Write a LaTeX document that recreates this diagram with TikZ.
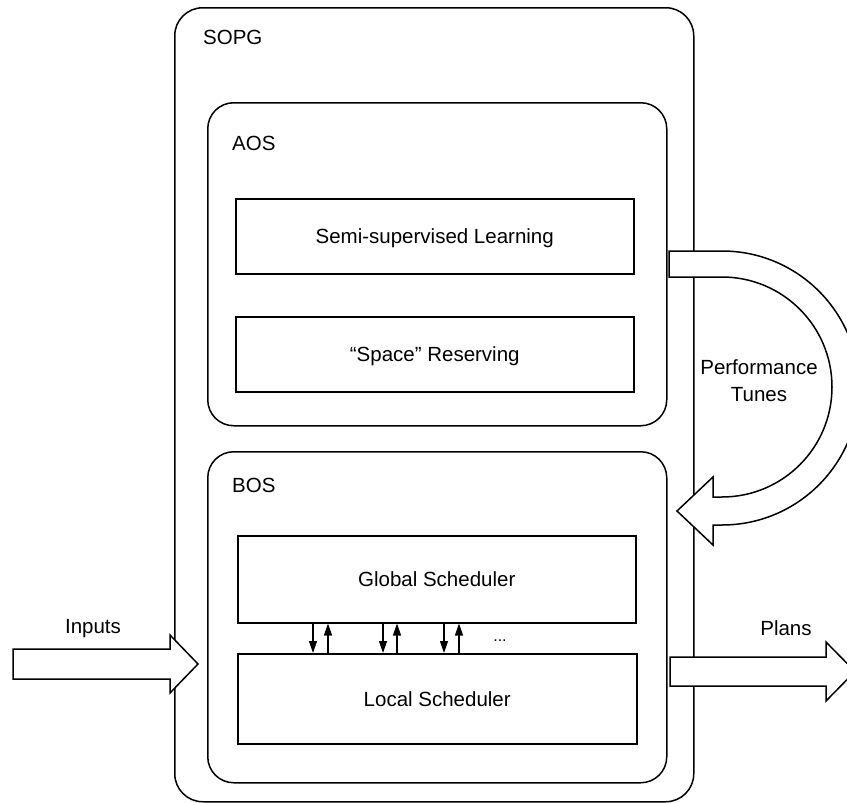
\documentclass[tikz,border=0pt]{standalone}
\usepackage{fontspec}
\setmainfont{Liberation Sans}
\usetikzlibrary{arrows.meta}

\begin{document}
\begin{tikzpicture}[
  x=1pt,y=-1pt,
  font=\fontsize{20.5}{27}\selectfont,
  frame/.style={draw=black,line width=1.5pt,rounded corners=26pt,
    anchor=north west,inner sep=0pt},
  module/.style={draw=black,line width=1.5pt,anchor=north west,inner sep=0pt,
    minimum width=398pt,text height=14.7pt,text depth=0pt},
  tag/.style={anchor=base west,inner sep=0pt},
  caption/.style={anchor=base,inner sep=0pt},
  bigarrow/.style={draw=black,fill=white,line width=1.5pt,line join=miter},
  link/.style={-{Triangle[length=12pt,width=8pt]},line width=1.2pt}
]
\useasboundingbox (0,0) rectangle (847,803);
\clip (0,0) rectangle (847,803);
% containers
\node[frame,rounded corners=28pt,minimum width=519pt,minimum height=794pt] (sopg) at (174,7) {};
\node[frame,minimum width=459pt,minimum height=323pt] (aos) at (207,102) {};
\node[frame,minimum width=459pt,minimum height=331pt] (bos) at (207,451) {};
\node[tag] (sopgtag) at (203,45) {SOPG};
\node[tag] (aostag) at (232,150) {AOS};
\node[tag] (bostag) at (232,492) {BOS};
% modules
\node[module,minimum height=75pt] (learning) at (235,198) {Semi-supervised Learning};
\node[module,minimum height=75pt] (reserving) at (235,316) {“Space” Reserving};
\node[module,minimum height=87pt] (global) at (237,535) {Global Scheduler};
\node[module,minimum width=399pt,minimum height=90pt] (local) at (237,653) {Local Scheduler};
% scheduler links
\foreach \x in {313,383,444}
  \draw[link] (\x,0 |- global.south) -- (\x,0 |- local.north);
\foreach \x in {328,397,459}
  \draw[link] (\x,0 |- local.north) -- (\x,0 |- global.south);
\node[caption,font=\fontsize{16}{18}\selectfont] (more) at (500,641) {...};
% block arrows
\draw[bigarrow] (13,649) -- (170,649) -- (170,635) -- (198,664) -- (170,693) -- (170,679) -- (13,679) -- cycle;
\draw[bigarrow] (670,657) -- (826,657) -- (826,642) -- (855,671.5) -- (826,701) -- (826,686) -- (670,686) -- cycle;
\draw[bigarrow] (669,251) -- (722,251) arc[start angle=-90,end angle=90,radius=137]
  -- (713,525) -- (713,545) -- (677,511) -- (713,477) -- (713,497) -- (722,497)
  arc[start angle=90,end angle=-90,radius=110] -- (669,277) -- cycle;
\node[caption] (inputs) at (93,633) {Inputs};
\node[caption] (plans) at (786,635) {Plans};
\node[align=center,inner sep=0pt] (tunes) at (759,381) {Performance\\Tunes};
\end{tikzpicture}
\end{document}
